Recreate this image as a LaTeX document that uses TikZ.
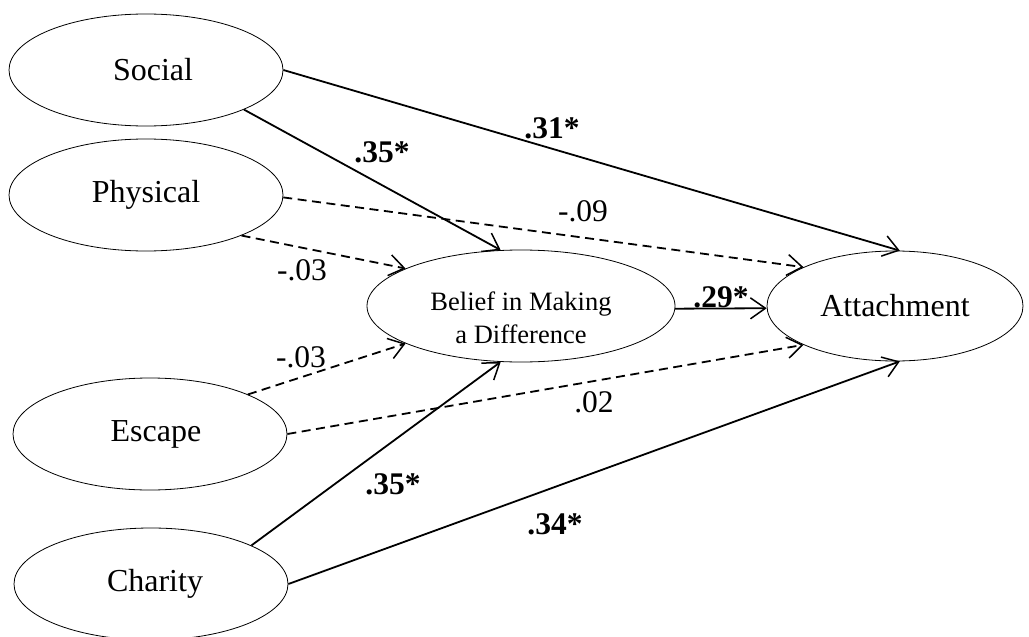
\documentclass[tikz,border=0pt]{standalone}
\usepackage{fontspec}
\setmainfont{Liberation Serif}
\usetikzlibrary{shapes.geometric,arrows.meta}
\begin{document}
\begin{tikzpicture}[x=1pt,y=-1pt,
  latent/.style={draw,ellipse,line width=0.8pt,inner sep=0pt,minimum width=274pt,minimum height=112pt,font=\fontsize{32}{36}\selectfont},
  path/.style={line width=1.8pt,-{Straight Barb[length=15pt,width=21pt,line width=1.5pt]}},
  nspath/.style={path,dash pattern=on 9pt off 5.5pt},
  coef/.style={font=\fontsize{31.5}{36}\selectfont\bfseries,inner sep=0pt},
  ncoef/.style={font=\fontsize{31.5}{36}\selectfont,inner sep=0pt}]
\path[use as bounding box] (0,0) rectangle (1029,637);
\node[latent] (soc) at (146,70) {\hspace*{14pt}Social};
\node[latent] (phy) at (146,195) {Physical};
\node[latent] (esc) at (150,434) {\hspace*{12pt}Escape};
\node[latent] (cha) at (151,584) {\hspace*{8pt}Charity};
\node[latent,minimum width=308pt] (bel) at (521,306) {};
\node[font=\fontsize{26.5}{33}\selectfont,align=center,inner sep=0pt] (belt) at (521,318) {Belief in Making\\a Difference};
\node[latent,minimum width=256pt,minimum height=110pt] (att) at (895,306) {Attachment};
% paths
\draw[path] (soc.east) -- (att.85);
\draw[path] (soc.-22) -- (bel.110);
\draw[nspath] (phy.-1) -- (att.157);
\draw[nspath] (phy.-23) -- (bel.162);
\draw[path] (bel.-1.5) -- (att.181.8);
\draw[nspath] (esc.22) -- (bel.198);
\draw[nspath] (esc.east) -- (att.203);
\draw[path] (cha.21) -- (bel.-110);
\draw[path] (cha.east) -- (att.-85);
% coefficients
\node[coef] (c1) at (552,128) {.31*};
\node[coef] (c2) at (382,152) {.35*};
\node[ncoef] (c3) at (583,211) {-.09};
\node[ncoef] (c4) at (302,270) {-.03};
\node[coef] (c5) at (721,297) {.29*};
\node[ncoef] (c6) at (301,357) {-.03};
\node[ncoef] (c7) at (594,402) {.02};
\node[coef] (c8) at (393,484) {.35*};
\node[coef] (c9) at (555,524) {.34*};
\end{tikzpicture}
\end{document}
